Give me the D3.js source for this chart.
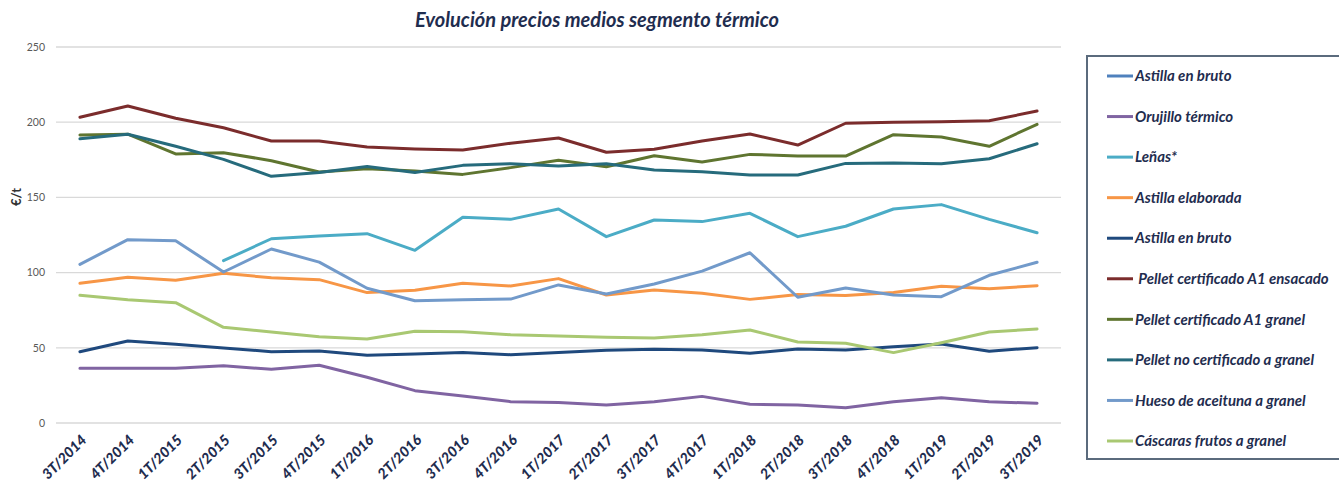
<!DOCTYPE html>
<html>
<head>
<meta charset="utf-8">
<script src="https://cdn.jsdelivr.net/npm/d3@7"></script>
<style>
  html, body { margin: 0; padding: 0; background: #fff; }
  svg { display: block; }
</style>
</head>
<body>
<svg id="chart" width="1339" height="481"></svg>
<script>
const categories = ["3T/2014","4T/2014","1T/2015","2T/2015","3T/2015","4T/2015","1T/2016","2T/2016","3T/2016","4T/2016","1T/2017","2T/2017","3T/2017","4T/2017","1T/2018","2T/2018","3T/2018","4T/2018","1T/2019","2T/2019","3T/2019"];

const yTicks = [0, 50, 100, 150, 200, 250];

const seriesNames = ["Astilla en bruto","Orujillo térmico","Leñas*","Astilla elaborada","Astilla en bruto"," Pellet certificado A1 ensacado","Pellet certificado A1 granel","Pellet no certificado a granel","Hueso de aceituna a granel","Cáscaras frutos a granel"];

const seriesColors = ["#4f81bd","#8064a2","#4bacc6","#f79646","#1f497d","#7b2c2c","#5f7530","#266b7c","#729aca","#a9c872"];

const astillaBrutoA = [null,null,null,null,null,null,null,null,null,null,null,null,null,null,null,null,null,null,null,null,null];
const orujillo = [36.4,36.4,36.4,38.1,35.7,38.4,30.4,21.5,18,14.2,13.7,12,14.2,17.7,12.4,12,10.2,14.2,16.8,14.2,13.1];
const lenas = [null,null,null,107.9,122.5,124.3,125.9,114.8,136.8,135.4,142.3,123.9,135,133.9,139.4,123.9,130.8,142.3,145.2,135.4,126.5];
const astillaElaborada = [92.9,96.9,94.9,99.5,96.6,95.3,86.7,88.2,92.9,91.1,96,85.1,88.4,86.2,82.2,85.4,84.7,86.7,90.9,89.3,91.3];
const astillaBrutoB = [47.4,54.5,52.3,49.9,47.4,47.9,45,45.9,46.8,45.4,46.8,48.3,49,48.5,46.3,49.2,48.5,50.7,52.5,47.7,50.1];
const pelletEnsacado = [203.3,210.8,202.6,196.3,187.5,187.5,183.5,182.2,181.5,186,189.5,180,182,187.5,192.2,184.8,199.3,199.9,200.3,201,207.4];
const pelletA1Granel = [191.5,192,178.9,179.7,174.4,166.9,169.1,167.5,165.3,169.8,174.7,170.4,177.7,173.5,178.6,177.5,177.5,191.7,190.2,184,198.6];
const pelletNoCert = [189,192,184,175.3,164,166.5,170.5,166.5,171.3,172.4,170.9,172.4,168.2,167.1,164.9,164.9,172.6,172.9,172.4,175.7,185.7];
const huesoAceituna = [105.5,121.9,121.2,100.4,115.7,107,89.6,81.3,82,82.4,91.8,85.8,92.4,101,113.2,83.6,89.8,85.1,84,98.2,106.9];
const cascaras = [84.9,82,80,63.6,60.5,57.4,55.9,61,60.7,58.7,57.8,57,56.5,58.7,61.8,53.9,53,46.8,53.4,60.5,62.5];

const seriesValues = [astillaBrutoA, orujillo, lenas, astillaElaborada, astillaBrutoB, pelletEnsacado, pelletA1Granel, pelletNoCert, huesoAceituna, cascaras];

const svg = d3.select("#chart");
const navy = "#1f2d4f";
const fontFam = "Lato, 'Open Sans', sans-serif";

const x = d3.scalePoint().domain(categories).range([56, 1061]).padding(0.5);
const y = d3.scaleLinear().domain([0, 250]).range([423, 47]);

// Title
svg.append("text")
  .attr("x", 597).attr("y", 27)
  .attr("text-anchor", "middle")
  .attr("font-family", fontFam)
  .attr("font-weight", "bold").attr("font-style", "italic")
  .attr("font-size", 20)
  .attr("fill", navy)
  .text("Evolución precios medios segmento térmico");

// Gridlines
svg.append("g").selectAll("line").data(yTicks).join("line")
  .attr("x1", 56).attr("x2", 1061)
  .attr("y1", d => y(d)).attr("y2", d => y(d))
  .attr("stroke", "#d9d9d9").attr("stroke-width", 1.3);

// Y axis
const yAxis = d3.axisLeft(y).tickValues(yTicks).tickSize(0).tickPadding(0);
const gy = svg.append("g").attr("transform", "translate(45,0)").call(yAxis);
gy.select(".domain").remove();
gy.selectAll("text")
  .attr("font-family", fontFam)
  .attr("font-size", 10.5)
  .attr("fill", "#595959");

// Y label
svg.append("text")
  .attr("transform", "translate(21,197) rotate(-90)")
  .attr("text-anchor", "middle")
  .attr("font-family", fontFam)
  .attr("font-weight", "bold")
  .attr("font-size", 13)
  .attr("fill", "#333")
  .text("€/t");

// X axis
const xAxis = d3.axisBottom(x).tickSize(0).tickPadding(0);
const gx = svg.append("g").attr("transform", "translate(0,423)").call(xAxis);
gx.select(".domain").remove();
gx.selectAll("text")
  .attr("font-family", fontFam)
  .attr("font-weight", "900").attr("font-style", "italic")
  .attr("font-size", 14.5)
  .attr("fill", navy)
  .attr("text-anchor", "end")
  .attr("dy", null)
  .attr("y", 0)
  .attr("transform", "translate(7,18) rotate(-45)");

// Lines
const line = d3.line()
  .defined(d => d != null)
  .x((d, i) => x(categories[i]))
  .y(d => y(d));

svg.append("g").selectAll("path").data(seriesValues).join("path")
  .attr("d", d => line(d))
  .attr("fill", "none")
  .attr("stroke", (d, i) => seriesColors[i])
  .attr("stroke-width", 3)
  .attr("stroke-linejoin", "round")
  .attr("stroke-linecap", "round");

// Legend
svg.append("rect")
  .attr("x", 1087).attr("y", 56)
  .attr("width", 300).attr("height", 403)
  .attr("fill", "none")
  .attr("stroke", "#5b6b7d").attr("stroke-width", 2);

const legendY = d3.scaleLinear().domain([0, seriesNames.length - 1]).range([76, 441]);
const lg = svg.append("g").selectAll("g").data(seriesNames).join("g")
  .attr("transform", (d, i) => `translate(0,${legendY(i)})`);
lg.append("line")
  .attr("x1", 1107).attr("x2", 1133)
  .attr("y1", 0).attr("y2", 0)
  .attr("stroke", (d, i) => seriesColors[i])
  .attr("stroke-width", 3);
lg.append("text")
  .attr("x", 1135).attr("y", 0).attr("dy", "0.35em")
  .attr("font-family", fontFam)
  .attr("font-weight", "bold").attr("font-style", "italic")
  .attr("font-size", 15)
  .attr("fill", navy)
  .attr("xml:space", "preserve")
  .style("white-space", "pre")
  .text(d => d);
</script>
</body>
</html>
